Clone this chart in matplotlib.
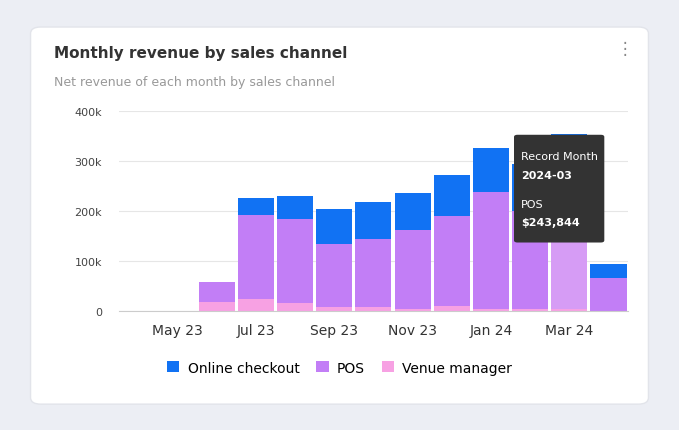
import matplotlib
matplotlib.use("Agg")
import matplotlib.pyplot as plt
from matplotlib.patches import FancyBboxPatch

months = ["Apr 23","May 23","Jun 23","Jul 23","Aug 23","Sep 23","Oct 23","Nov 23","Dec 23","Jan 24","Feb 24","Mar 24","Apr 24"]
venue  = [0,0,18,24,16,8,8,4,10,4,4,4,0]
pos    = [0,0,40,168,168,126,136,158,180,234,196,240,66]
online = [0,0,0,34,46,70,74,74,82,88,94,110,28]
tick_labels = ["May 23","Jul 23","Sep 23","Nov 23","Jan 24","Mar 24"]
highlight = "Mar 24"

fig = plt.figure(figsize=(6.79,4.31), dpi=100)
fig.patch.set_facecolor("#eceef4")
card = FancyBboxPatch((0.045,0.06),0.91,0.875, boxstyle="round,pad=0,rounding_size=0.015",
                      transform=fig.transFigure, facecolor="white", edgecolor="#e2e4ea", lw=1, zorder=0)
fig.patches.append(card)
fig.text(0.08,0.865,"Monthly revenue by sales channel",fontsize=11,fontweight="bold",color="#333333")
fig.text(0.08,0.80,"Net revenue of each month by sales channel",fontsize=9,color="#999999")
fig.text(0.92,0.875,"⋮",fontsize=12,color="#888888",ha="center")

ax = fig.add_axes([0.175,0.275,0.75,0.465])
ax.set_zorder(5)
ax.patch.set_alpha(0)
x = range(len(months))
cv, cp, co = "#f7a1e3", "#c27ef6", "#1172f3"
pc = [("#d69cf5" if m==highlight else cp) for m in months]
ax.bar(x, venue, 0.92, color=cv, label="Venue manager")
ax.bar(x, pos, 0.92, bottom=venue, color=pc, label="POS")
ax.bar(x, online, 0.92, bottom=[a+b for a,b in zip(venue,pos)], color=co, label="Online checkout")
ax.set_ylim(0,400)
ax.set_xlim(-0.5,len(months)-0.5)
ax.set_yticks([0,100,200,300,400])
ax.set_yticklabels(["0","100k","200k","300k","400k"],fontsize=8,color="#444444")
ax.set_xticks([months.index(t) for t in tick_labels])
ax.set_xticklabels(tick_labels,fontsize=10,color="#333333")
ax.grid(axis="y",color="#e6e6e6",lw=0.8)
ax.set_axisbelow(True)
for s in ["top","right","left"]: ax.spines[s].set_visible(False)
ax.spines["bottom"].set_color("#cccccc")
ax.tick_params(length=0, pad=8)
ax.tick_params(axis="y", pad=12)
h,l = ax.get_legend_handles_labels()
leg = fig.legend(h[::-1],l[::-1],loc="center",bbox_to_anchor=(0.5,0.145),ncol=3,frameon=False,
           fontsize=10,handlelength=0.9,handleheight=0.9,columnspacing=1.2,handletextpad=0.6)
leg.set_zorder(6)

tb = FancyBboxPatch((0.757,0.435),0.133,0.25, boxstyle="round,pad=0,rounding_size=0.005",
                    transform=fig.transFigure, facecolor="#333333", edgecolor="none", zorder=10)
fig.patches.append(tb)
fig.text(0.767,0.628,"Record Month",color="white",fontsize=8,zorder=11)
fig.text(0.767,0.585,"2024-03",color="white",fontsize=8,fontweight="bold",zorder=11)
fig.text(0.767,0.518,"POS",color="white",fontsize=8,zorder=11)
fig.text(0.767,0.475,"$243,844",color="white",fontsize=8,fontweight="bold",zorder=11)
fig.savefig("out.png",dpi=100,facecolor=fig.get_facecolor())
